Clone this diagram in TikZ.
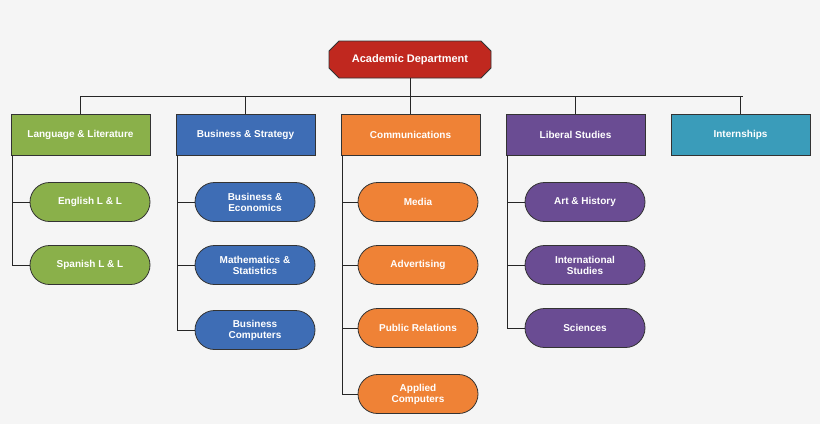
\documentclass[tikz,border=0pt]{standalone}
\usepackage{fontspec}
\setmainfont{Liberation Sans}
\usetikzlibrary{shapes.misc}
\definecolor{cred}{HTML}{C0281F}
\definecolor{cgreen}{HTML}{8AB04A}
\definecolor{cblue}{HTML}{3E6DB5}
\definecolor{corange}{HTML}{EF8236}
\definecolor{cpurple}{HTML}{6A4C93}
\definecolor{cteal}{HTML}{3A9CBA}
\definecolor{bg}{HTML}{F5F5F5}
\begin{document}
\begin{tikzpicture}[x=1pt,y=-1pt,
  every node/.style={font=\bfseries\fontsize{10}{11}\selectfont, text=white, align=center, draw=black!80, line width=0.8pt},
  cat/.style={minimum width=139pt, minimum height=41pt, inner sep=0pt},
  kid/.style={rounded rectangle, minimum width=120pt, minimum height=39pt, inner sep=0pt},
  ln/.style={draw=black!85, line width=0.9pt}]
\fill[bg] (0,0) rectangle (820,424);
\useasboundingbox (0,0) rectangle (820,424);
\node[chamfered rectangle, chamfered rectangle xsep=5pt, chamfered rectangle ysep=5pt, fill=cred, minimum width=162pt, minimum height=37pt, inner sep=0pt, font=\bfseries\fontsize{11}{12}\selectfont] (top) at (410,59.5) {Academic Department};
\node[cat, fill=cgreen] (c1) at (80.5,134.5) {Language \& Literature};
\node[cat, fill=cblue] (c2) at (245.5,134.5) {Business \& Strategy};
\node[cat, fill=corange] (c3) at (410.5,134.5) {Communications};
\node[cat, fill=cpurple] (c4) at (575.5,134.5) {Liberal Studies};
\node[cat, fill=cteal] (c5) at (740.5,134.5) {Internships};
\coordinate (h) at (410,96);
\draw[ln] (top.south) -- (h);
\draw[ln] (80.5,96) -- (742.5,96);
\foreach \c in {c1,c2,c3,c4,c5} \draw[ln] (\c.north |- h) -- (\c.north);
% children
\node[kid, fill=cgreen] (g1) at (90,202) {English L \& L};
\node[kid, fill=cgreen] (g2) at (90,265) {Spanish L \& L};
\node[kid, fill=cblue] (b1) at (255,202) {Business \&\\Economics};
\node[kid, fill=cblue] (b2) at (255,265) {Mathematics \&\\Statistics};
\node[kid, fill=cblue] (b3) at (255,330) {Business\\Computers};
\node[kid, fill=corange] (o1) at (418,202) {Media};
\node[kid, fill=corange] (o2) at (418,265) {Advertising};
\node[kid, fill=corange] (o3) at (418,328) {Public Relations};
\node[kid, fill=corange] (o4) at (418,394) {Applied\\Computers};
\node[kid, fill=cpurple] (p1) at (585,202) {Art \& History};
\node[kid, fill=cpurple] (p2) at (585,265) {International\\Studies};
\node[kid, fill=cpurple] (p3) at (585,328) {Sciences};
\coordinate (t1) at (12,0); \coordinate (t2) at (177,0);
\coordinate (t3) at (342,0); \coordinate (t4) at (507,0);
\draw[ln] (t1 |- c1.south) -- (t1 |- g2.west) -- (g2.west);
\draw[ln] (t1 |- g1.west) -- (g1.west);
\draw[ln] (t2 |- c2.south) -- (t2 |- b3.west) -- (b3.west);
\foreach \k in {b1,b2} \draw[ln] (t2 |- \k.west) -- (\k.west);
\draw[ln] (t3 |- c3.south) -- (t3 |- o4.west) -- (o4.west);
\foreach \k in {o1,o2,o3} \draw[ln] (t3 |- \k.west) -- (\k.west);
\draw[ln] (t4 |- c4.south) -- (t4 |- p3.west) -- (p3.west);
\foreach \k in {p1,p2} \draw[ln] (t4 |- \k.west) -- (\k.west);
\end{tikzpicture}
\end{document}
